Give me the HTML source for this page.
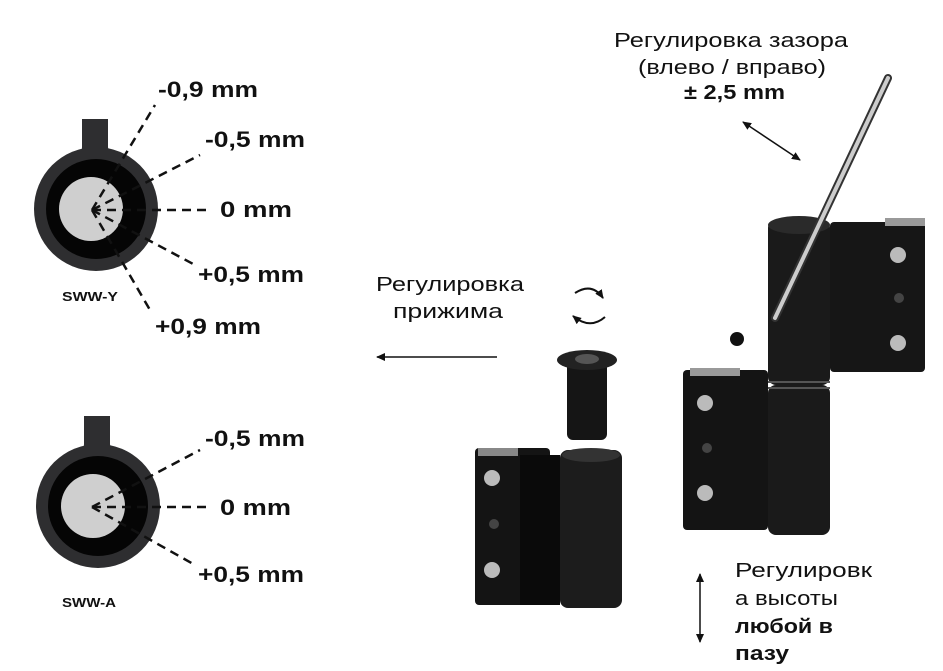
<!DOCTYPE html>
<html><head><meta charset="utf-8"><style>
html,body{margin:0;padding:0;background:#fff}
svg{display:block}
text{font-family:"Liberation Sans",sans-serif;fill:#111}
.b{font-weight:bold;font-size:22px}
.n{font-size:20px}
</style></head><body>
<svg width="943" height="671" viewBox="0 0 943 671" xmlns="http://www.w3.org/2000/svg">
<defs>
<marker id="ah" markerWidth="10" markerHeight="10" refX="8" refY="5" orient="auto-start-reverse" markerUnits="userSpaceOnUse"><path d="M0,1 L9,5 L0,9 Z" fill="#111"/></marker>
<g id="knob">
<rect x="-14" y="-90" width="26" height="50" fill="#2e2e30"/>
<path d="M-14,-62 Q-14,-52 -28,-52 L28,-52 Q12,-52 12,-62 Z" fill="#2e2e30"/>
<circle cx="0" cy="0" r="62" fill="#2e2e30"/>
<circle cx="0" cy="0" r="50" fill="#050505"/>
<circle cx="-5" cy="0" r="32" fill="#cfcfcf"/>
</g>
</defs>
<use href="#knob" x="96" y="209"/>
<g stroke="#111" stroke-width="2.5" stroke-dasharray="9,6" fill="none">
<path d="M92,210 L155,105"/><path d="M92,210 L200,155"/><path d="M92,210 L210,210"/><path d="M92,210 L195,265"/><path d="M92,210 L150,310"/>
</g>
<text class="b" x="158" y="97" textLength="100" lengthAdjust="spacingAndGlyphs">-0,9 mm</text>
<text class="b" x="205" y="147" textLength="100" lengthAdjust="spacingAndGlyphs">-0,5 mm</text>
<text class="b" x="220" y="217" textLength="72" lengthAdjust="spacingAndGlyphs">0 mm</text>
<text class="b" x="198" y="282" textLength="106" lengthAdjust="spacingAndGlyphs">+0,5 mm</text>
<text class="b" x="155" y="334" textLength="106" lengthAdjust="spacingAndGlyphs">+0,9 mm</text>
<text x="62" y="301" style="font-weight:bold;font-size:13px" textLength="56" lengthAdjust="spacingAndGlyphs">SWW-Y</text>
<use href="#knob" x="98" y="506"/>
<g stroke="#111" stroke-width="2.5" stroke-dasharray="9,6" fill="none">
<path d="M92,507 L200,450"/><path d="M92,507 L210,507"/><path d="M92,507 L195,565"/>
</g>
<text class="b" x="205" y="446" textLength="100" lengthAdjust="spacingAndGlyphs">-0,5 mm</text>
<text class="b" x="220" y="515" textLength="71" lengthAdjust="spacingAndGlyphs">0 mm</text>
<text class="b" x="198" y="582" textLength="106" lengthAdjust="spacingAndGlyphs">+0,5 mm</text>
<text x="62" y="607" style="font-weight:bold;font-size:13px" textLength="54" lengthAdjust="spacingAndGlyphs">SWW-A</text>
<text class="n" x="614" y="47" textLength="234" lengthAdjust="spacingAndGlyphs">Регулировка зазора</text>
<text class="n" x="638" y="74" textLength="188" lengthAdjust="spacingAndGlyphs">(влево / вправо)</text>
<text class="n" x="684" y="99" font-weight="bold" textLength="101" lengthAdjust="spacingAndGlyphs">± 2,5 mm</text>
<text class="n" x="376" y="291" textLength="148" lengthAdjust="spacingAndGlyphs">Регулировка</text>
<text class="n" x="393" y="318" textLength="110" lengthAdjust="spacingAndGlyphs">прижима</text>
<line x1="497" y1="357" x2="377" y2="357" stroke="#111" stroke-width="1.5" marker-end="url(#ah)"/>
<text class="n" x="735" y="577" textLength="137" lengthAdjust="spacingAndGlyphs">Регулировк</text>
<text class="n" x="735" y="605" textLength="103" lengthAdjust="spacingAndGlyphs">а высоты</text>
<text class="n" x="735" y="633" font-weight="bold" textLength="98" lengthAdjust="spacingAndGlyphs">любой в</text>
<text class="n" x="735" y="660" font-weight="bold" textLength="54" lengthAdjust="spacingAndGlyphs">пазу</text>
<line x1="700" y1="574" x2="700" y2="642" stroke="#111" stroke-width="1.5" marker-start="url(#ah)" marker-end="url(#ah)"/>
<line x1="743" y1="122" x2="800" y2="160" stroke="#111" stroke-width="1.5" marker-start="url(#ah)" marker-end="url(#ah)"/>
<path d="M575,293 Q592,282 603,298" stroke="#111" stroke-width="2" fill="none" marker-end="url(#ah)"/>
<path d="M605,317 Q590,330 573,316" stroke="#111" stroke-width="2" fill="none" marker-end="url(#ah)"/>
<rect x="475" y="448" width="75" height="157" rx="4" fill="#141414"/>
<rect x="520" y="455" width="40" height="150" fill="#0a0a0a"/>
<rect x="560" y="450" width="62" height="158" rx="8" fill="#1c1c1c"/>
<ellipse cx="591" cy="455" rx="29" ry="7" fill="#333"/>
<rect x="478" y="448" width="40" height="8" fill="#888"/>
<circle cx="492" cy="478" r="8" fill="#bbb"/><circle cx="492" cy="570" r="8" fill="#bbb"/><circle cx="494" cy="524" r="5" fill="#444"/>
<rect x="567" y="360" width="40" height="80" rx="6" fill="#151515"/>
<ellipse cx="587" cy="360" rx="30" ry="10" fill="#222"/>
<ellipse cx="587" cy="359" rx="12" ry="5" fill="#555"/>
<rect x="830" y="222" width="95" height="150" rx="4" fill="#161616"/>
<rect x="885" y="218" width="40" height="8" fill="#999"/>
<circle cx="898" cy="255" r="8" fill="#bbb"/><circle cx="898" cy="343" r="8" fill="#bbb"/><circle cx="899" cy="298" r="5" fill="#444"/>
<rect x="768" y="220" width="62" height="165" rx="8" fill="#1a1a1a"/>
<ellipse cx="799" cy="225" rx="31" ry="9" fill="#2a2a2a"/>
<rect x="683" y="370" width="85" height="160" rx="4" fill="#141414"/>
<rect x="690" y="368" width="50" height="8" fill="#999"/>
<circle cx="705" cy="403" r="8" fill="#bbb"/><circle cx="705" cy="493" r="8" fill="#bbb"/><circle cx="707" cy="448" r="5" fill="#444"/>
<rect x="768" y="385" width="62" height="150" rx="8" fill="#1a1a1a"/>
<line x1="768" y1="382" x2="830" y2="382" stroke="#555" stroke-width="2"/>
<line x1="768" y1="388" x2="830" y2="388" stroke="#555" stroke-width="2"/>
<circle cx="737" cy="339" r="7" fill="#111"/>
<line x1="888" y1="78" x2="775" y2="318" stroke="#333" stroke-width="8" stroke-linecap="round"/>
<line x1="888" y1="78" x2="775" y2="318" stroke="#ccc" stroke-width="4" stroke-linecap="round"/>
</svg>
</body></html>
